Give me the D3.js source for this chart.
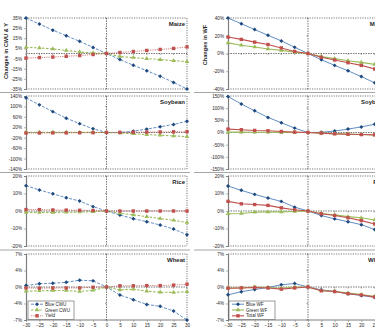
<!DOCTYPE html>
<html>
<head>
<meta charset="utf-8">
<script src="https://cdn.jsdelivr.net/npm/d3@7"></script>
<style>
  html, body { margin: 0; padding: 0; background: #fff; overflow: hidden; }
  svg { display: block; font-family: "Liberation Sans", Arial, sans-serif; }
</style>
</head>
<body>
<div id="chart"></div>
<script>
// climate / irrigation scenario (%)
const xs = [-30, -25, -20, -15, -10, -5, 0, 5, 10, 15, 20, 25, 30];
const xTicks = [-30, -25, -20, -15, -10, -5, 0, 5, 10, 15, 20, 25, 30];

// left: changes in CWU & yield
const maizeBlueCWU = [35, 29, 23, 17.5, 12, 6, 0, -6, -11.5, -17, -22.5, -28.5, -35];
const maizeGreenCWU = [6, 5.5, 4.5, 3, 1.5, 0.5, 0, -3, -4, -5, -6, -7, -8];
const maizeYield = [-4.5, -4, -3.5, -2.8, -2, -1, 0, 1, 2, 3, 4, 5, 6.5];

const soyBlueCWU = [133, 106, 80, 55, 34, 14, 0, 0, 5, 13, 22, 31, 43];
const soyGreenCWU = [1, 1, 1, 1, 0.5, 0.3, 0, -2, -5, -8, -10, -13, -16];
const soyYield = [-2, -2, -1.5, -1.5, -1, -0.5, 0, 0.5, 1, 1.5, 2, 2.5, 3];

const riceBlueCWU = [14.5, 12, 9.8, 7.6, 5.7, 2.5, 0, -2.3, -4.4, -6.1, -8, -10.3, -13.6];
const riceGreenCWU = [-0.8, -0.8, -0.8, -0.7, -0.6, -0.4, 0, -1.3, -2.2, -3.2, -4.3, -5.3, -6.6];
const riceYield = [0.8, 0.8, 0.6, 0.5, 0.4, 0.3, 0, 0, 0, 0, 0, 0, 0];

const wheatBlueCWU = [0.3, 0.7, 0.8, 1, 1.45, 1.3, 0, -1.7, -2.7, -3.7, -4.1, -5.1, -7];
const wheatGreenCWU = [-0.9, -0.8, -0.75, -0.75, -0.95, -0.7, 0, -0.6, -0.45, -0.9, -1.1, -1.15, -1.0];
const wheatYield = [-0.2, -0.25, -0.2, -0.2, -0.2, -0.05, 0, 0.25, 0.25, 0.3, 0.3, 0.4, 0.6];

// right: changes in WF
const maizeBlueWF = [40, 33.5, 27, 20.5, 14.2, 7, 0, -7, -13.4, -19.5, -26, -33, -40];
const maizeGreenWF = [12, 9.3, 7.4, 5.1, 3.5, 1.6, 0, -3.5, -5.8, -8.1, -10, -12.3, -14.5];
const maizeTotalWF = [18.5, 15.9, 12.8, 10.1, 6.3, 2.3, 0, -4.2, -7.3, -10.4, -13.4, -17.5, -21];

const soyBlueWF = [148, 117, 89, 62, 40, 18, 0, 1, 6, 14, 23, 34, 47];
const soyGreenWF = [1.5, 1.5, 1.2, 1, 0.7, 0.3, 0, -2.5, -4.5, -6.5, -8.5, -10.5, -12.5];
const soyTotalWF = [14, 11.4, 8.5, 7, 4.2, 1.7, 0, -2.5, -5.5, -7, -8.5, -9.7, -11];

const riceBlueWF = [14.3, 11.8, 9.5, 7.4, 5.5, 2.2, 0, -2.6, -4.5, -6.1, -7.8, -10.6, -13];
const riceGreenWF = [-1.6, -1.4, -0.7, -0.5, -0.5, -0.3, 0, -1.4, -2.2, -3.2, -3.9, -5.1, -6];
const riceTotalWF = [5.5, 4.1, 3.7, 3.2, 1.8, 0.7, 0, -1.6, -2.6, -3.9, -5.5, -7.4, -9];

const wheatBlueWF = [-1.66, -1.0, -0.53, -0.1, 0.47, 0.74, 0, -0.6, -0.96, -1.44, -1.8, -2.2, -2.6];
const wheatGreenWF = [-0.2, -0.2, 0, -0.1, -0.25, 0, 0, -0.8, -0.9, -1.3, -1.6, -2.0, -2.4];
const wheatTotalWF = [-0.25, -0.2, -0.1, -0.2, -0.45, -0.2, 0, -0.8, -0.96, -1.4, -1.7, -2.1, -2.5];

// tick values and labels per panel
const maizeTicksL = [35, 25, 15, 5, -5, -15, -25, -35];
const maizeTicksR = [40, 20, 0, -20, -40];
const soyTicksL = [140, 100, 60, 20, -20, -60, -100, -140];
const soyTicksR = [150, 100, 50, 0, -50, -100, -150];
const riceTicks = [20, 10, 0, -10, -20];
const wheatTicks = [7, 3.5, 0, -3.5, -7];
const wheatTickLabels = ['7%', '4%', '0%', '-4%', '-7%'];

const cropNames = ['Maize', 'Soybean', 'Rice', 'Wheat'];
const legendLeft = ['Blue CWU', 'Green CWU', 'Yield'];
const legendRight = ['Blue WF', 'Green WF', 'Total WF'];

const W = 400, H = 333;
const svg = d3.select('#chart').append('svg').attr('width', W).attr('height', H);

const C = {
    blue: '#4F81BD', blueMk: '#1F497D',
    green: '#9BBB59', red: '#C0504D',
    axis: '#7f7f7f', grid: '#404040', text: '#262626'
};

// vertical bands of the four stacked charts
const bands = [
    {top: 18, bottom: 89},
    {top: 96, bottom: 169},
    {top: 176, bottom: 246},
    {top: 254, bottom: 320}
];

const xL = d3.scaleLinear().domain([-30, 30]).range([26, 187]);
const xR = d3.scaleLinear().domain([-30, 30]).range([228, 388]);

function marker(g, shape, x, y, color) {
    if (shape === 'diamond') {
        g.append('path').attr('d', d3.symbol(d3.symbolDiamond2, 10)())
            .attr('transform', `translate(${x},${y})`).attr('fill', color);
    } else if (shape === 'square') {
        g.append('rect').attr('x', x - 1.7).attr('y', y - 1.7).attr('width', 3.4).attr('height', 3.4)
            .attr('fill', color);
    } else {
        g.append('path').attr('d', d3.symbol(d3.symbolTriangle, 9)())
            .attr('transform', `translate(${x},${y})`).attr('fill', color);
    }
}

function panel(opt) {
    const {x, band, domain, ticks, labels, title, series, last} = opt;
    const y = d3.scaleLinear().domain(domain).range([band.bottom, band.top]);
    const g = svg.append('g');
    const [x0, x1] = x.range();

    // plot border: dotted top/right/bottom, solid left
    g.append('line').attr('x1', x0).attr('x2', x1).attr('y1', band.top).attr('y2', band.top)
        .attr('stroke', C.grid).attr('stroke-width', 0.7).attr('stroke-dasharray', '1.2,1.2');
    g.append('line').attr('x1', x1).attr('x2', x1).attr('y1', band.top).attr('y2', band.bottom)
        .attr('stroke', C.grid).attr('stroke-width', 0.7).attr('stroke-dasharray', '1.2,1.2');
    g.append('line').attr('x1', x0).attr('x2', x1).attr('y1', band.bottom).attr('y2', band.bottom)
        .attr('stroke', last ? C.axis : C.grid).attr('stroke-width', last ? 1 : 0.7)
        .attr('stroke-dasharray', last ? null : '1.2,1.2');

    // zero cross lines
    g.append('line').attr('x1', x0).attr('x2', x1).attr('y1', y(0)).attr('y2', y(0))
        .attr('stroke', C.grid).attr('stroke-width', 0.7).attr('stroke-dasharray', '1.5,1');
    g.append('line').attr('x1', x(0)).attr('x2', x(0)).attr('y1', band.top).attr('y2', band.bottom)
        .attr('stroke', C.grid).attr('stroke-width', 0.7).attr('stroke-dasharray', '1.5,1');
    ticks.forEach(t => {
        g.append('line').attr('x1', x(0) - 1.5).attr('x2', x(0)).attr('y1', y(t)).attr('y2', y(t))
            .attr('stroke', C.grid).attr('stroke-width', 0.5);
    });
    xTicks.forEach(t => {
        g.append('line').attr('x1', x(t)).attr('x2', x(t)).attr('y1', y(0)).attr('y2', y(0) + 1.5)
            .attr('stroke', C.grid).attr('stroke-width', 0.5);
    });

    // left axis
    const yAxis = d3.axisLeft(y).tickValues(ticks).tickSize(2).tickPadding(2)
        .tickFormat((d, i) => labels ? labels[i] : d + '%');
    const ax = g.append('g').attr('transform', `translate(${x0},0)`).call(yAxis);
    ax.select('.domain').attr('stroke', C.axis).attr('stroke-width', 1.2);
    ax.selectAll('.tick line').attr('stroke', C.axis).attr('stroke-width', 0.6);
    ax.selectAll('text').attr('font-size', 4.6).attr('fill', C.text);

    if (last) {
        const xAxis = d3.axisBottom(x).tickValues(xTicks).tickSize(2).tickPadding(2);
        const bx = g.append('g').attr('transform', `translate(0,${band.bottom})`).call(xAxis);
        bx.select('.domain').remove();
        bx.selectAll('.tick line').attr('stroke', C.axis).attr('stroke-width', 0.6);
        bx.selectAll('text').attr('font-size', 4.6).attr('fill', C.text);
    }

    g.append('text').attr('x', x1 - 2).attr('y', band.top + 8).attr('text-anchor', 'end')
        .attr('font-size', 6).attr('font-weight', 'bold').attr('fill', C.text).text(title);

    series.forEach(s => {
        const line = d3.line().x((d, i) => x(xs[i])).y(d => y(d));
        g.append('path').datum(s.values).attr('d', line).attr('fill', 'none')
            .attr('stroke', s.color).attr('stroke-width', s.width || 0.9)
            .attr('stroke-dasharray', s.dash);
        s.values.forEach((v, i) => marker(g, s.shape, x(xs[i]), y(v), s.mk || s.color));
    });
}

function leftSeries(b, gr, r) {
    return [
        {values: b, color: C.blue, mk: C.blueMk, shape: 'diamond', dash: '3,1.5'},
        {values: gr, color: C.green, shape: 'triangle', dash: '2.5,1.5', width: 1.1},
        {values: r, color: C.red, shape: 'square', dash: '0.8,1'}
    ];
}
function rightSeries(b, gr, t) {
    return [
        {values: b, color: C.blue, mk: C.blueMk, shape: 'diamond', dash: null},
        {values: gr, color: C.green, shape: 'triangle', dash: null, width: 1.1},
        {values: t, color: C.red, shape: 'square', dash: null, width: 1.1}
    ];
}

// chart frame separators
[92.5, 172.5, 250].forEach(yy => {
    svg.append('line').attr('x1', 0).attr('x2', 190).attr('y1', yy).attr('y2', yy)
        .attr('stroke', '#a6a6a6').attr('stroke-width', 1.2);
    svg.append('line').attr('x1', 194).attr('x2', W).attr('y1', yy).attr('y2', yy)
        .attr('stroke', '#a6a6a6').attr('stroke-width', 1.2);
});

panel({x: xL, band: bands[0], domain: [-35, 35], ticks: maizeTicksL, title: cropNames[0],
    series: leftSeries(maizeBlueCWU, maizeGreenCWU, maizeYield)});
panel({x: xL, band: bands[1], domain: [-140, 140], ticks: soyTicksL, title: cropNames[1],
    series: leftSeries(soyBlueCWU, soyGreenCWU, soyYield)});
panel({x: xL, band: bands[2], domain: [-20, 20], ticks: riceTicks, title: cropNames[2],
    series: leftSeries(riceBlueCWU, riceGreenCWU, riceYield)});
panel({x: xL, band: bands[3], domain: [-7, 7], ticks: wheatTicks, labels: wheatTickLabels, title: cropNames[3],
    series: leftSeries(wheatBlueCWU, wheatGreenCWU, wheatYield), last: true});

panel({x: xR, band: bands[0], domain: [-40, 40], ticks: maizeTicksR, title: cropNames[0],
    series: rightSeries(maizeBlueWF, maizeGreenWF, maizeTotalWF)});
panel({x: xR, band: bands[1], domain: [-150, 150], ticks: soyTicksR, title: cropNames[1],
    series: rightSeries(soyBlueWF, soyGreenWF, soyTotalWF)});
panel({x: xR, band: bands[2], domain: [-20, 20], ticks: riceTicks, title: cropNames[2],
    series: rightSeries(riceBlueWF, riceGreenWF, riceTotalWF)});
panel({x: xR, band: bands[3], domain: [-7, 7], ticks: wheatTicks, labels: wheatTickLabels, title: cropNames[3],
    series: rightSeries(wheatBlueWF, wheatGreenWF, wheatTotalWF), last: true});

// y titles
svg.append('text').attr('transform', 'translate(8,51) rotate(-90)').attr('text-anchor', 'middle')
    .attr('font-size', 5.6).attr('font-weight', 'bold').attr('fill', C.text).text('Changes in CWU & Y');
svg.append('text').attr('transform', 'translate(207,45) rotate(-90)').attr('text-anchor', 'middle')
    .attr('font-size', 5.6).attr('font-weight', 'bold').attr('fill', C.text).text('Changes in WF');

// legends
function legend(x0, y0, names, series) {
    const g = svg.append('g');
    g.append('rect').attr('x', x0).attr('y', y0).attr('width', 46).attr('height', 18.5)
        .attr('fill', '#fff').attr('stroke', '#595959').attr('stroke-width', 0.6);
    names.forEach((n, i) => {
        const yy = y0 + 3.2 + i * 5.8;
        const s = series[i];
        g.append('line').attr('x1', x0 + 3).attr('x2', x0 + 15).attr('y1', yy).attr('y2', yy)
            .attr('stroke', s.color).attr('stroke-width', s.width || 0.9).attr('stroke-dasharray', s.dash);
        marker(g, s.shape, x0 + 9, yy, s.mk || s.color);
        g.append('text').attr('x', x0 + 17).attr('y', yy + 1.6).attr('font-size', 4.6)
            .attr('fill', C.text).text(n);
    });
}
legend(28, 301, legendLeft, leftSeries([], [], []));
legend(229, 301, legendRight, rightSeries([], [], []));
</script>
</body>
</html>
